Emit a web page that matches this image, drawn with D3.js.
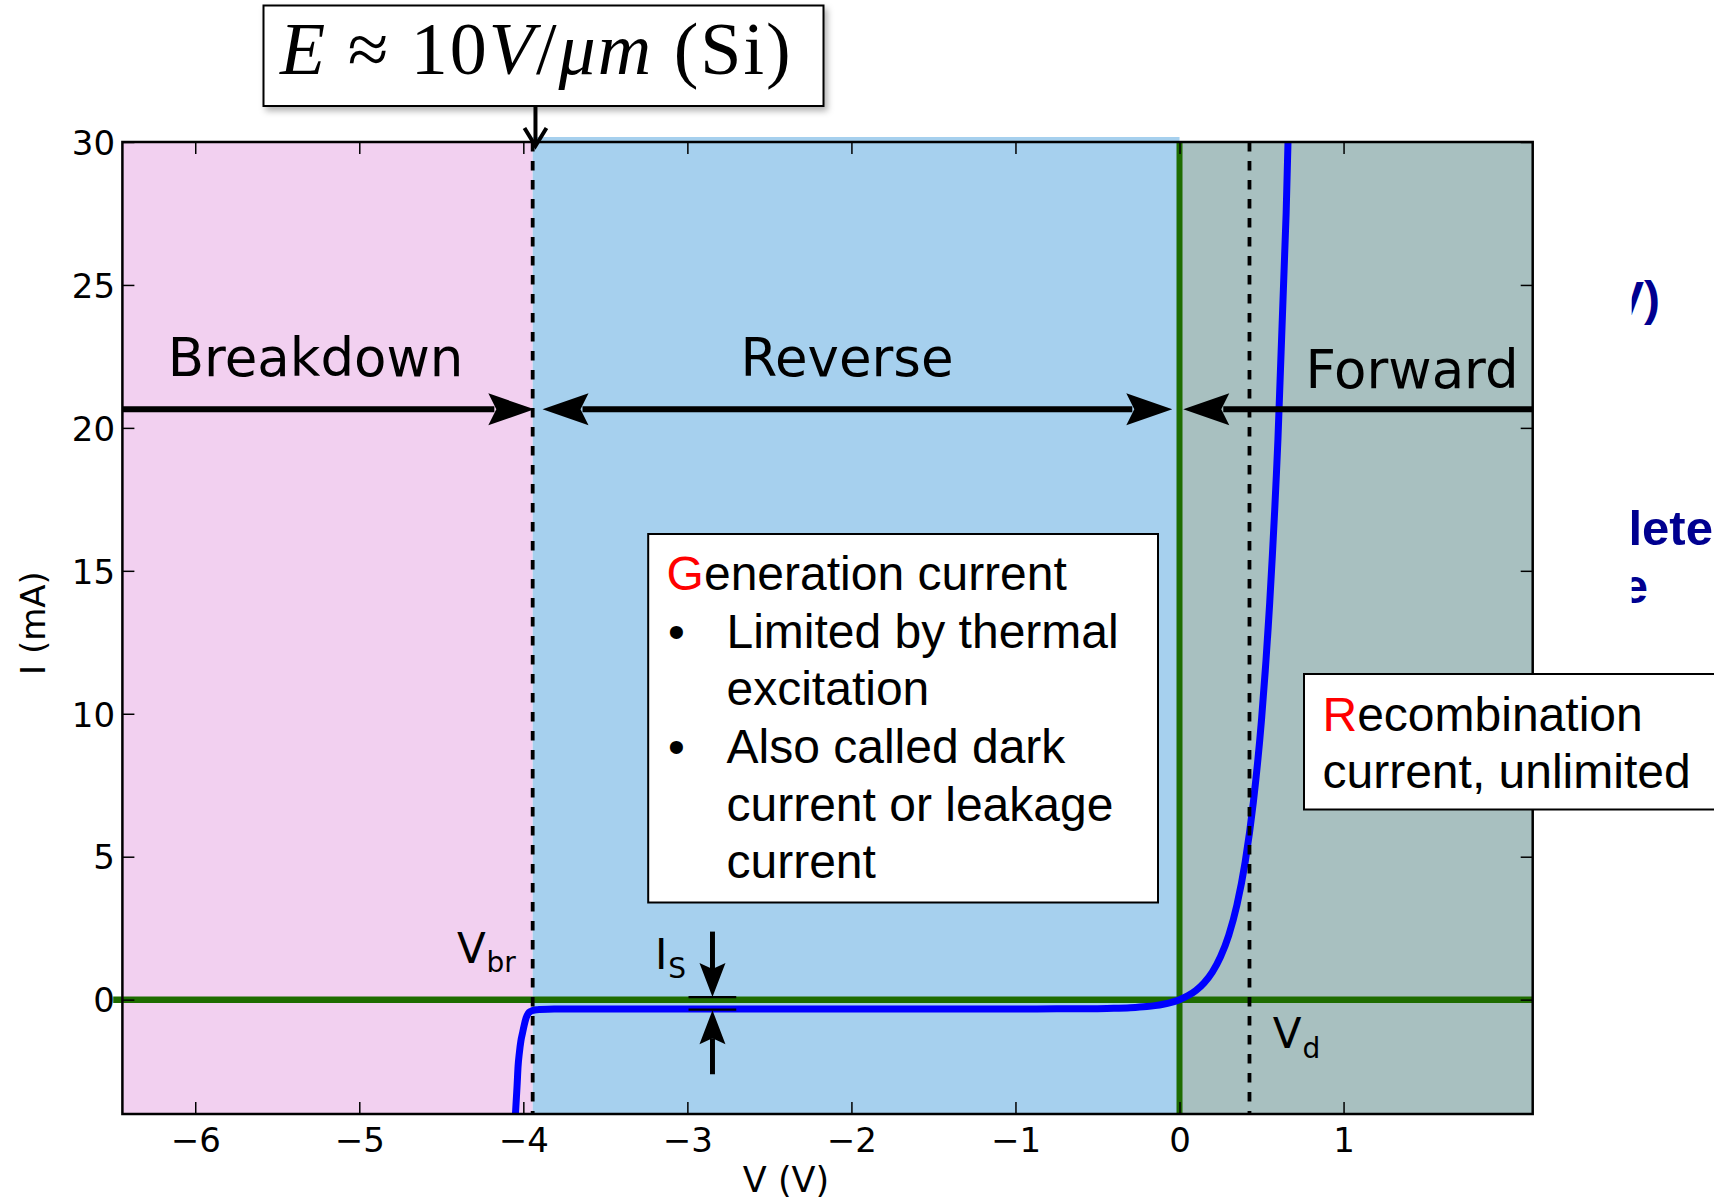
<!DOCTYPE html>
<html><head><meta charset="utf-8">
<script src="https://cdn.jsdelivr.net/npm/d3@7"></script>
<style>body{margin:0;background:#fff}svg{display:block}</style>
</head><body>
<svg id="c" width="1714" height="1199"></svg>
<script>
// ---------------- data ----------------
const xDomain = [-6.444, 2.153];        // V (V)
const yDomain = [-4, 30];               // I (mA)
const xTicks = [-6, -5, -4, -3, -2, -1, 0, 1];
const yTicks = [0, 5, 10, 15, 20, 25, 30];
const regionNames = ["Breakdown", "Reverse", "Forward"];
const regionStart = [-6.444, -3.943, 0];
const regionEnd   = [-3.943, 0, 2.153];
const Vbr = -3.943;
const Vd = 0.4265;
const Is = 0.325;
// diode I-V curve
const voltage = [-4.062,-4.052,-4.044,-4.038,-4.032,-4.024,-4.015,-4.005,-3.994,-3.983,-3.97,-3.955,-3.94,-3.92,-3.9,-3.85,-3.75,-3.5,-3.0,-2.5,-2.0,-1.5,-1.0,-0.75,-0.6,-0.5,-0.4,-0.3,-0.2,-0.15,-0.1,-0.05,0,0.05,0.1,0.15,0.2,0.25,0.3,0.35,0.4,0.45,0.5,0.55,0.6,0.65,0.7];
const current = [-5.5,-4.4,-3.6,-3.0,-2.33,-1.85,-1.45,-1.17,-0.88,-0.64,-0.48,-0.41,-0.375,-0.352,-0.342,-0.332,-0.328,-0.326,-0.325,-0.325,-0.325,-0.325,-0.324,-0.322,-0.319,-0.315,-0.305,-0.284,-0.243,-0.209,-0.162,-0.095,0,0.134,0.322,0.589,0.965,1.50,2.25,3.31,4.8,6.9,9.8,13.9,19.6,27.5,38.5];
const xLabel = "V (V)", yLabel = "I (mA)";
const genLines = ["Generation current", "Limited by thermal", "excitation", "Also called dark", "current or leakage", "current"];
const recLines = ["Recombination", "current, unlimited"];

// ---------------- styles ----------------
const regionColors = ["#f2d0f0", "#a6d0ee", "#a8c0c0"];
const green = "#1e6c00";
const sans = "DejaVu Sans";
const arial = "Liberation Sans, Arial, sans-serif";

const svg = d3.select("#c");
const x = d3.scaleLinear().domain(xDomain).range([122.4, 1532.7]);
const y = d3.scaleLinear().domain(yDomain).range([1114, 142]);
const X0 = x(xDomain[0]), X1 = x(xDomain[1]), Y0 = y(yDomain[1]), Y1 = y(yDomain[0]);

const defs = svg.append("defs");
defs.append("clipPath").attr("id", "plotclip").append("rect")
  .attr("x", X0).attr("y", Y0).attr("width", X1 - X0).attr("height", Y1 - Y0);
defs.append("clipPath").attr("id", "edgeclip").append("rect")
  .attr("x", 1631.7).attr("y", 0).attr("width", 200).attr("height", 1199);
const f = defs.append("filter").attr("id", "shadow").attr("x", "-10%").attr("y", "-10%").attr("width", "130%").attr("height", "140%");
f.append("feDropShadow").attr("dx", 3).attr("dy", 4).attr("stdDeviation", 3).attr("flood-color", "#000").attr("flood-opacity", 0.3);

// stray slide text fragments at right edge
const stray = svg.append("g").attr("clip-path", "url(#edgeclip)")
  .attr("font-family", arial).attr("font-weight", "bold").attr("font-size", 48).attr("fill", "#000090");
stray.append("text").attr("x", 1660).attr("y", 315).attr("text-anchor", "end").text("V)");
stray.append("text").attr("x", 1628.5).attr("y", 545).attr("font-size", 49).text("lete");
stray.append("text").attr("x", 1648).attr("y", 603).attr("text-anchor", "end").text("e");

// regions
svg.append("g").selectAll("rect").data(regionNames).join("rect")
  .attr("x", (d, i) => x(regionStart[i]))
  .attr("width", (d, i) => x(regionEnd[i]) - x(regionStart[i]))
  .attr("y", (d, i) => i === 1 ? Y0 - 5 : Y0)
  .attr("height", (d, i) => Y1 - Y0 + (i === 1 ? 5 : 0))
  .attr("fill", (d, i) => regionColors[i]);

// green axes lines
svg.append("line").attr("x1", x(-6.5)).attr("x2", X1).attr("y1", y(0)).attr("y2", y(0))
  .attr("stroke", green).attr("stroke-width", 6.5);
svg.append("line").attr("x1", x(0)).attr("x2", x(0)).attr("y1", Y0).attr("y2", Y1)
  .attr("stroke", green).attr("stroke-width", 6);

// I-V curve
const pts = voltage.map((v, i) => [v, current[i]]);
svg.append("path").datum(pts).attr("clip-path", "url(#plotclip)")
  .attr("d", d3.line().x(d => x(d[0])).y(d => y(d[1])).curve(d3.curveMonotoneX))
  .attr("fill", "none").attr("stroke", "#0000ff").attr("stroke-width", 7).attr("stroke-linejoin", "round");

// dashed lines
[Vbr, Vd].forEach(v => svg.append("line").attr("x1", x(v)).attr("x2", x(v)).attr("y1", Y0).attr("y2", Y1)
  .attr("stroke", "#000").attr("stroke-width", 3.8).attr("stroke-dasharray", "9.5,9.5"));

// axes
function styleAxis(g) {
  g.select(".domain").remove();
  g.selectAll("line").attr("stroke", "#000").attr("stroke-width", 1.5);
  g.selectAll("text").attr("font-family", sans).attr("font-size", 34).attr("fill", "#000");
}
svg.append("g").attr("transform", `translate(0,${Y1})`)
  .call(d3.axisBottom(x).tickValues(xTicks).tickSizeInner(-12).tickSizeOuter(0).tickPadding(14)).call(styleAxis);
svg.append("g").attr("transform", `translate(0,${Y0})`)
  .call(d3.axisTop(x).tickValues(xTicks).tickSizeInner(-12).tickSizeOuter(0).tickFormat("")).call(styleAxis);
const gl = svg.append("g").attr("transform", `translate(${X0},0)`)
  .call(d3.axisLeft(y).tickValues(yTicks).tickSizeInner(-12).tickSizeOuter(0).tickPadding(7.4)).call(styleAxis);
gl.selectAll("text").attr("dy", "0.36em");
svg.append("g").attr("transform", `translate(${X1},0)`)
  .call(d3.axisRight(y).tickValues(yTicks).tickSizeInner(-12).tickSizeOuter(0).tickFormat("")).call(styleAxis);

svg.append("rect").attr("x", X0).attr("y", Y0).attr("width", X1 - X0).attr("height", Y1 - Y0)
  .attr("fill", "none").attr("stroke", "#000").attr("stroke-width", 2.5);

// axis labels
svg.append("text").attr("x", 786).attr("y", 1192).attr("text-anchor", "middle")
  .attr("font-family", sans).attr("font-size", 35).text(xLabel);
svg.append("text").attr("transform", "translate(44.6,623) rotate(-90)").attr("text-anchor", "middle")
  .attr("font-family", sans).attr("font-size", 34).text(yLabel);

// arrow helpers
function filledHead(g, tx, ty, dx, dy, len, half, notch) {
  const px = -dy, py = dx;
  const bx = tx - dx * len, by = ty - dy * len;
  const nx = tx - dx * (len - notch), ny = ty - dy * (len - notch);
  g.append("path").attr("d", `M${tx},${ty}L${bx + px * half},${by + py * half}L${nx},${ny}L${bx - px * half},${by - py * half}Z`)
    .attr("fill", "#000");
}
const ann = svg.append("g");
const ay = y(20.65);
// Breakdown arrow
ann.append("line").attr("x1", X0).attr("x2", x(-3.933) - 40).attr("y1", ay).attr("y2", ay).attr("stroke", "#000").attr("stroke-width", 6);
filledHead(ann, x(-3.933), ay, 1, 0, 46, 16, 8);
// Reverse double arrow
ann.append("line").attr("x1", x(-3.883) + 40).attr("x2", x(-0.044) - 40).attr("y1", ay).attr("y2", ay).attr("stroke", "#000").attr("stroke-width", 6);
filledHead(ann, x(-3.883), ay, -1, 0, 46, 16, 8);
filledHead(ann, x(-0.044), ay, 1, 0, 46, 16, 8);
// Forward arrow
ann.append("line").attr("x1", X1).attr("x2", x(0.023) + 40).attr("y1", ay).attr("y2", ay).attr("stroke", "#000").attr("stroke-width", 6);
filledHead(ann, x(0.023), ay, -1, 0, 46, 16, 8);

// Is arrows and bars
const isx = x(-2.847);
ann.append("line").attr("x1", x(-2.993)).attr("x2", x(-2.702)).attr("y1", y(0.09)).attr("y2", y(0.09)).attr("stroke", "#000").attr("stroke-width", 2.2);
ann.append("line").attr("x1", x(-2.993)).attr("x2", x(-2.702)).attr("y1", y(-0.348)).attr("y2", y(-0.348)).attr("stroke", "#000").attr("stroke-width", 2.2);
ann.append("line").attr("x1", isx).attr("x2", isx).attr("y1", y(2.38)).attr("y2", y(0.09) - 28).attr("stroke", "#000").attr("stroke-width", 5);
filledHead(ann, isx, y(0.09), 0, 1, 34, 13, 6);
ann.append("line").attr("x1", isx).attr("x2", isx).attr("y1", y(-2.61)).attr("y2", y(-0.37) + 28).attr("stroke", "#000").attr("stroke-width", 5);
filledHead(ann, isx, y(-0.37), 0, -1, 34, 13, 6);

// region labels
const lab = svg.append("g").attr("font-family", sans).attr("fill", "#000");
lab.append("text").attr("x", x(-6.168)).attr("y", y(21.81)).attr("font-size", 53).text("Breakdown");
lab.append("text").attr("x", x(-2.676)).attr("y", y(21.80)).attr("font-size", 53).text("Reverse");
lab.append("text").attr("x", x(0.768)).attr("y", y(21.41)).attr("font-size", 53).text("Forward");
// V_br, I_S, V_d
lab.append("text").attr("x", x(-4.404)).attr("y", y(1.296)).attr("font-size", 42).text("V");
lab.append("text").attr("x", x(-4.224)).attr("y", y(0.967)).attr("font-size", 28).text("br");
lab.append("text").attr("x", x(-3.197)).attr("y", y(1.062)).attr("font-size", 42).text("I");
lab.append("text").attr("x", x(-3.116)).attr("y", y(0.747)).attr("font-size", 28).text("S");
lab.append("text").attr("x", x(0.568)).attr("y", y(-1.677)).attr("font-size", 42).text("V");
lab.append("text").attr("x", x(0.749)).attr("y", y(-2.027)).attr("font-size", 28).text("d");

// E box with arrow
const eb = svg.append("g");
eb.append("rect").attr("x", 263.5).attr("y", 5.5).attr("width", 560).attr("height", 100.5)
  .attr("fill", "#fff").attr("stroke", "#000").attr("stroke-width", 2).attr("filter", "url(#shadow)");
const et = eb.append("text").attr("x", 280).attr("y", 74).attr("font-family", "Liberation Serif, serif").attr("font-size", 74).attr("letter-spacing", 2);
et.append("tspan").attr("font-style", "italic").text("E");
et.append("tspan").text(" ≈ 10");
et.append("tspan").attr("font-style", "italic").text("V");
et.append("tspan").text("/");
et.append("tspan").attr("font-style", "italic").text("μm");
et.append("tspan").text(" (Si)");
const etx = x(-3.926), ety = y(29.86);
eb.append("line").attr("x1", etx).attr("x2", etx).attr("y1", 106).attr("y2", ety - 1).attr("stroke", "#000").attr("stroke-width", 4);
eb.append("path").attr("d", `M${etx - 11},${ety - 18}L${etx},${ety}L${etx + 11},${ety - 18}`)
  .attr("fill", "none").attr("stroke", "#000").attr("stroke-width", 4).attr("stroke-linejoin", "miter");

// Generation box
const gb = svg.append("g").attr("font-family", arial).attr("font-size", 48).attr("fill", "#000");
gb.append("rect").attr("x", 648.2).attr("y", 534).attr("width", 509.8).attr("height", 368.5)
  .attr("fill", "#fff").attr("stroke", "#000").attr("stroke-width", 2);
genLines.forEach((t, i) => {
  const by = 590 + i * 57.66;
  if (i === 0) {
    const tx = gb.append("text").attr("x", 666.6).attr("y", by);
    tx.append("tspan").attr("fill", "#ff0000").text(t[0]);
    tx.append("tspan").text(t.slice(1));
  } else {
    if (i === 1 || i === 3) gb.append("text").attr("x", 668).attr("y", by).text("•");
    gb.append("text").attr("x", 726.5).attr("y", by).text(t);
  }
});

// Recombination box
const rb = svg.append("g").attr("font-family", arial).attr("font-size", 48).attr("fill", "#000");
rb.append("rect").attr("x", 1304).attr("y", 674).attr("width", 440).attr("height", 135.5)
  .attr("fill", "#fff").attr("stroke", "#000").attr("stroke-width", 2);
recLines.forEach((t, i) => {
  const tx = rb.append("text").attr("x", 1322.5).attr("y", 730.7 + i * 57);
  if (i === 0) { tx.append("tspan").attr("fill", "#ff0000").text(t[0]); tx.append("tspan").text(t.slice(1)); }
  else tx.text(t);
});
</script>
</body></html>
